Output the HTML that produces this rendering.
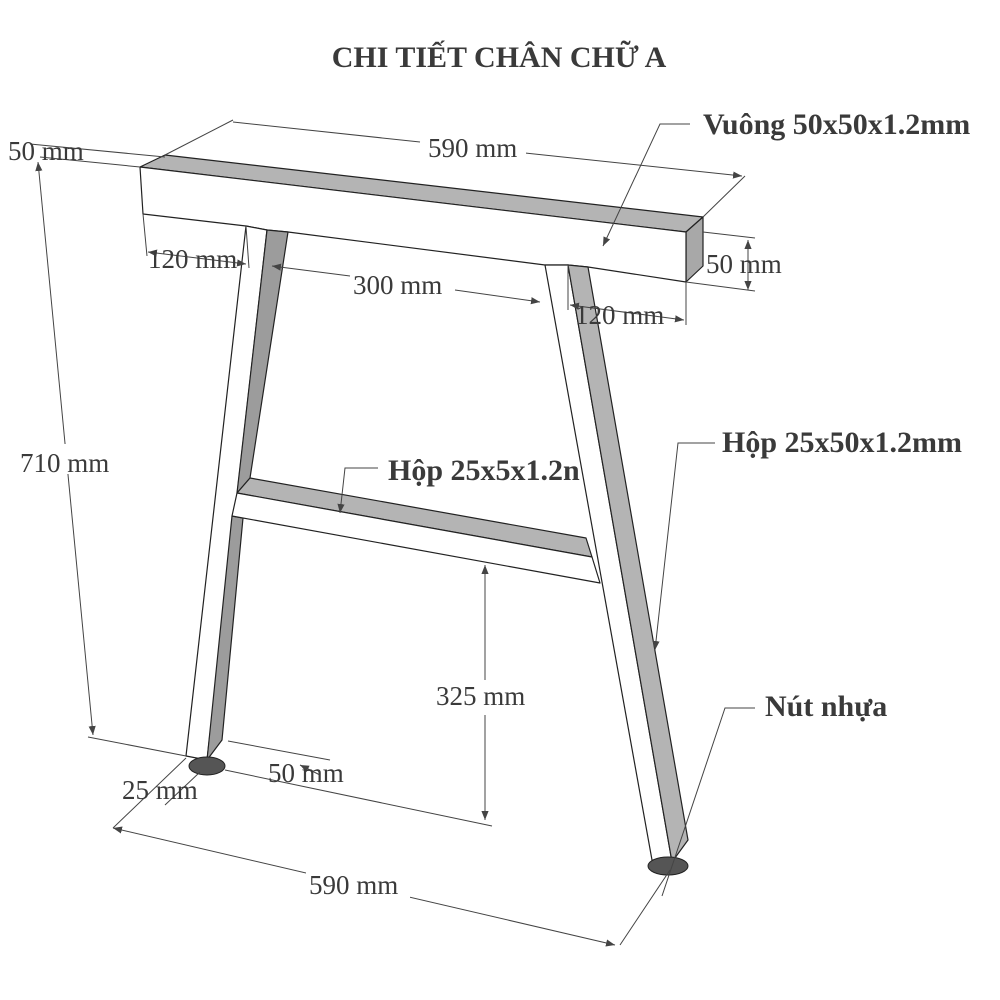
<!DOCTYPE html>
<html><head><meta charset="utf-8"><style>
html,body{margin:0;padding:0;background:#fff;}
svg{display:block}
text{font-family:"Liberation Serif",serif;fill:#3a3a3a}
.b{font-weight:bold}
</style></head><body>
<svg width="1000" height="1000" viewBox="0 0 1000 1000">
<defs>
<marker id="a" viewBox="0 0 10 10" refX="10" refY="5" markerWidth="9" markerHeight="9" orient="auto-start-reverse"><path d="M0,1 L10,5 L0,9 z" fill="#444"/></marker>
</defs>
<text x="499" y="67" text-anchor="middle" class="b" font-size="30">CHI TIẾT CHÂN CHỮ A</text>

<g stroke="#222" stroke-width="1.2" stroke-linejoin="round">
<polygon points="140,167 165,155 703,217 686,232" fill="#b4b4b4"/>
<polygon points="686,232 703,217 703,266 686,282" fill="#a8a8a8"/>
<polygon points="140,167 686,232 686,282 588,267 568,265 545,265 288,232 267,230 246,226 143,214" fill="#fff"/>
<polygon points="246,226 267,230 207,760 186,756" fill="#fff"/>
<polygon points="267,230 288,232 250,478 237,493" fill="#9c9c9c"/>
<polygon points="232,516 243,518 222,740 207,760" fill="#9c9c9c"/>
<polygon points="237,493 250,478 586,538 592,557" fill="#b4b4b4"/>
<polygon points="237,493 592,557 600,583 232,516" fill="#fff"/>
<polygon points="545,265 568,265 672,862 652,860" fill="#fff"/>
<polygon points="568,265 588,267 688,840 672,862" fill="#b4b4b4"/>
</g>
<ellipse cx="207" cy="766" rx="18" ry="9" fill="#555" stroke="#222"/>
<ellipse cx="668" cy="866" rx="20" ry="9" fill="#555" stroke="#222"/>

<g stroke="#444" stroke-width="1" fill="none">
<line x1="165" y1="155" x2="233" y2="120"/>
<line x1="703" y1="217" x2="745" y2="176"/>
<line x1="233" y1="122" x2="420" y2="142"/>
<line x1="525" y1="153" x2="742" y2="176" marker-end="url(#a)"/>
<line x1="30" y1="144" x2="165" y2="157"/>
<line x1="40" y1="157" x2="140" y2="167"/>
<line x1="38" y1="162" x2="93" y2="735" marker-start="url(#a)" marker-end="url(#a)"/>
<line x1="88" y1="737" x2="186" y2="756"/>
<line x1="143" y1="214" x2="147" y2="256"/>
<line x1="246" y1="226" x2="249" y2="268"/>
<line x1="148" y1="252" x2="246" y2="264" marker-start="url(#a)" marker-end="url(#a)"/>
<line x1="272" y1="266" x2="350" y2="276" marker-start="url(#a)"/>
<line x1="455" y1="290" x2="540" y2="302" marker-end="url(#a)"/>
<line x1="686" y1="282" x2="686" y2="325"/>
<line x1="568" y1="265" x2="568" y2="310"/>
<line x1="570" y1="305" x2="684" y2="320" marker-start="url(#a)" marker-end="url(#a)"/>
<line x1="703" y1="232" x2="755" y2="238"/>
<line x1="686" y1="282" x2="755" y2="291"/>
<line x1="748" y1="240" x2="748" y2="290" marker-start="url(#a)" marker-end="url(#a)"/>
<polyline points="690,124 660,124 603,246" marker-end="url(#a)"/>
<polyline points="378,468 345,468 340,513" marker-end="url(#a)"/>
<polyline points="715,443 678,443 655,650" marker-end="url(#a)"/>
<polyline points="755,708 725,708 662,896"/>
<line x1="485" y1="565" x2="485" y2="680" marker-start="url(#a)"/>
<line x1="485" y1="715" x2="485" y2="820" marker-end="url(#a)"/>
<line x1="228" y1="741" x2="330" y2="760"/>
<line x1="225" y1="770" x2="492" y2="826"/>
<line x1="300" y1="765" x2="320" y2="775" marker-start="url(#a)"/>
<line x1="186" y1="758" x2="113" y2="828"/>
<line x1="200" y1="772" x2="165" y2="805"/>
<line x1="113" y1="828" x2="615" y2="945" marker-start="url(#a)" marker-end="url(#a)"/>
<line x1="620" y1="945" x2="670" y2="870"/>
</g>

<g font-size="27">
<rect x="422" y="134" width="104" height="28" fill="#fff"/>
<text x="428" y="157">590 mm</text>
<text x="8" y="160">50 mm</text>
<rect x="16" y="444" width="100" height="30" fill="#fff"/>
<text x="20" y="472">710 mm</text>
<text x="148" y="268">120 mm</text>
<text x="353" y="294">300 mm</text>
<text x="575" y="324">120 mm</text>
<text x="706" y="273">50 mm</text>
<rect x="434" y="680" width="102" height="30" fill="#fff"/>
<text x="436" y="705">325 mm</text>
<text x="268" y="782">50 mm</text>
<text x="122" y="799">25 mm</text>
<rect x="306" y="870" width="104" height="28" fill="#fff"/>
<text x="309" y="894">590 mm</text>
</g>
<g font-size="30" class="b">
<text x="703" y="134" class="b">Vuông 50x50x1.2mm</text>
<text x="388" y="480" class="b">Hộp 25x5x1.2n</text>
<text x="722" y="452" class="b">Hộp 25x50x1.2mm</text>
<text x="765" y="716" class="b">Nút nhựa</text>
</g>
</svg>
</body></html>
